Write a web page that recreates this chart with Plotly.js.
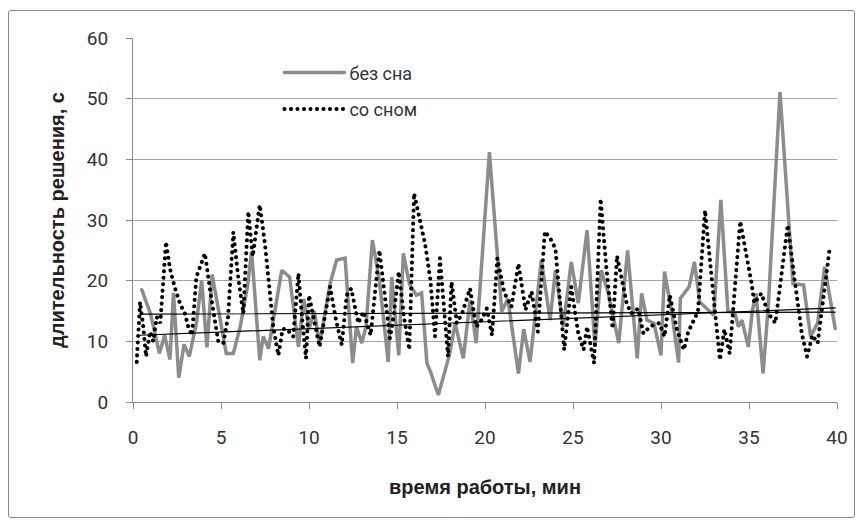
<!DOCTYPE html>
<html>
<head>
<meta charset="utf-8">
<script src="https://cdn.plot.ly/plotly-3.0.1.min.js"></script>
<style>
html,body{margin:0;padding:0;background:#fff;}
#wrap{position:relative;width:862px;height:525px;}
#chart{width:862px;height:525px;}
#frame{position:absolute;left:8px;top:10px;width:845px;height:506px;border:1px solid #8a8a8a;border-radius:3px;pointer-events:none;}
.js-line{stroke-linecap:round;}
</style>
</head>
<body>
<div id="wrap"><div id="chart"></div><div id="frame"></div></div>
<script>
// без сна (gray solid)
const xNoSleep = [0.5,1.0,1.5,1.8,2.1,2.3,2.6,2.9,3.2,3.6,3.9,4.2,4.5,5.0,5.3,5.7,6.1,6.5,6.74,7.2,7.4,7.7,8.45,8.9,9.4,9.7,10.0,10.3,10.6,11.2,11.57,12.05,12.48,12.7,13.0,13.24,13.6,14.0,14.5,14.7,15.1,15.36,15.7,16.1,16.4,16.7,16.9,17.35,18.0,18.3,18.77,19.15,19.5,20.25,20.95,21.3,21.9,22.2,22.56,23.2,23.7,24.0,24.45,24.9,25.3,25.8,26.25,26.6,27.0,27.6,28.1,28.65,28.9,29.2,29.6,30.0,30.2,30.6,31.0,31.1,31.6,31.9,32.2,33.0,33.4,33.8,34.2,34.4,34.6,34.96,35.2,35.4,35.8,36.1,36.76,37.5,38.1,38.5,38.9,39.3,39.9];
const yNoSleep = [18.5,14.5,8,11,7,18,4,9.5,7.5,13,20,9,21,13,8,8,12.5,19,24.8,6.9,10.8,8.8,21.7,20.6,9.1,17,12,15,9.5,19.5,23.4,23.7,6.4,12.4,9.7,12.4,26.7,20,6.6,20.6,7.7,24.5,19.5,17.6,18,6.4,5.0,1.15,8.0,13,7.2,16.8,9.7,41.2,14.9,17,4.7,12,6.6,23.4,13.5,21.7,12.4,23.1,16.3,28.3,9.1,21.7,18,9.7,25.0,7.2,17.9,13.5,13,7.7,21.5,15,6.5,17.1,19.0,23.1,16.5,14.3,33.3,15,14.6,12.4,13.5,9.1,15.2,17.9,4.7,16,51.1,19.5,19.3,10.8,13,22.3,12.1];
// со сном (black dotted)
const xSleep = [0.21,0.4,0.6,0.74,0.97,1.15,1.35,1.55,1.875,2.1,2.39,2.7,2.95,3.14,3.35,3.6,4.09,4.4,4.85,5.13,5.4,5.7,6.0,6.27,6.55,6.8,7.2,7.5,7.97,8.26,8.5,8.73,9.1,9.4,9.6,9.83,10.0,10.3,10.6,11.2,11.5,11.86,12.14,12.4,12.8,13.1,13.5,14.0,14.3,14.6,14.8,15.1,15.4,15.7,15.97,16.3,16.6,16.9,17.16,17.44,17.9,18.1,18.4,18.7,19.15,19.5,19.8,20.1,20.4,20.7,21.1,21.5,21.9,22.3,22.65,23.0,23.4,23.7,24.0,24.5,24.9,25.3,25.6,25.8,26.2,26.57,26.9,27.25,27.5,28.05,28.3,28.7,29.0,29.4,29.9,30.2,30.5,30.9,31.3,31.55,32.1,32.5,32.8,33.1,33.35,33.6,33.9,34.5,35.15,35.3,35.7,36.1,36.5,37.2,37.6,38.0,38.3,38.6,38.9,39.56];
const ySleep = [6.6,16.5,12,7.5,11.6,10,14,13,26.4,22,18.7,16,14.6,12.4,11,20.6,24.5,18,9.9,9.7,14,28,20,14.6,31.4,24,32.5,26,12.4,7.7,12,12.1,10.8,21.2,14,7.2,17.6,13,9.1,19.0,14,9.4,17.6,18.7,13,14.9,11.0,25.0,18,10.5,14,21.5,14,8.6,34.4,30,26,20.1,10.8,23.7,7.5,19.8,13,14.6,18.7,12.4,13.5,15.4,11.0,23.7,18,15.7,22.8,15.2,18.2,11.6,28.1,27,25.3,8.6,19.0,11.3,8.6,12.4,6.4,33.5,22,12.1,24.1,16.3,14.6,15.4,11.3,12.5,13.0,10.8,17.6,12,8.6,11.6,14.9,31.6,22,14.0,6.9,12,8.0,29.8,19.5,16.3,17.9,14.6,13.0,29.2,20,11.3,7.5,11,9.7,24.8];
// linear trend lines (end values)
const trendX = [0.4, 39.9];
const trendNoSleep = [11.0, 15.5];
const trendSleep = [14.5, 14.8];
const seriesNames = ['без сна', 'со сном'];
const xTicks = [0,5,10,15,20,25,30,35,40];
const yTicks = [0,10,20,30,40,50,60];

const tickFont = {family: 'Roboto, Arial, sans-serif', size: 19, color: '#333'};
const titleFont = {family: 'Liberation Sans, Arial, sans-serif', size: 20, color: '#222', weight: 'bold'};
const traces = [
  {x: xNoSleep, y: yNoSleep, name: seriesNames[0], mode: 'lines', legendgroup: 'a',
   line: {color: '#8c8c8c', width: 3.5}},
  {x: xSleep, y: ySleep, name: seriesNames[1], mode: 'lines', legendgroup: 'b',
   line: {color: '#000', width: 4, dash: '0.1px,6.4px'}},
  {x: trendX, y: trendNoSleep, mode: 'lines', showlegend: false, hoverinfo: 'skip',
   line: {color: '#000', width: 1.2}},
  {x: trendX, y: trendSleep, mode: 'lines', showlegend: false, hoverinfo: 'skip',
   line: {color: '#000', width: 1.2}}
];
const layout = {
  width: 862, height: 525,
  margin: {l: 133, r: 25, t: 38, b: 123},
  paper_bgcolor: '#fff', plot_bgcolor: '#fff',
  showlegend: true,
  legend: {x: 0.208, y: 0.955, xanchor: 'left', yanchor: 'top', bgcolor: 'rgba(0,0,0,0)',
    font: {family: 'Roboto, Arial, sans-serif', size: 18, color: '#333'},
    tracegroupgap: 10, itemwidth: 60},
  xaxis: {range: [0, 40], tickvals: xTicks, ticktext: xTicks.map(String),
    showgrid: false, zeroline: false, showline: true, linecolor: '#8a8a8a', linewidth: 1,
    ticks: 'outside', ticklen: 6, tickcolor: '#8a8a8a', tickfont: tickFont, ticklabelstandoff: 12,
    title: {text: 'время работы, мин', font: titleFont, standoff: 32}},
  yaxis: {range: [0, 60], tickvals: yTicks, ticktext: yTicks.map(String),
    showgrid: true, gridcolor: '#a6a6a6', gridwidth: 1, zeroline: false,
    showline: true, linecolor: '#8a8a8a', linewidth: 1,
    ticks: 'outside', ticklen: 6, tickcolor: '#8a8a8a', tickfont: tickFont, ticklabelstandoff: 14,
    title: {text: 'длительность решения, с', font: titleFont, standoff: 16}}
};
Plotly.newPlot('chart', traces, layout, {displayModeBar: false, staticPlot: true});
</script>
</body>
</html>
